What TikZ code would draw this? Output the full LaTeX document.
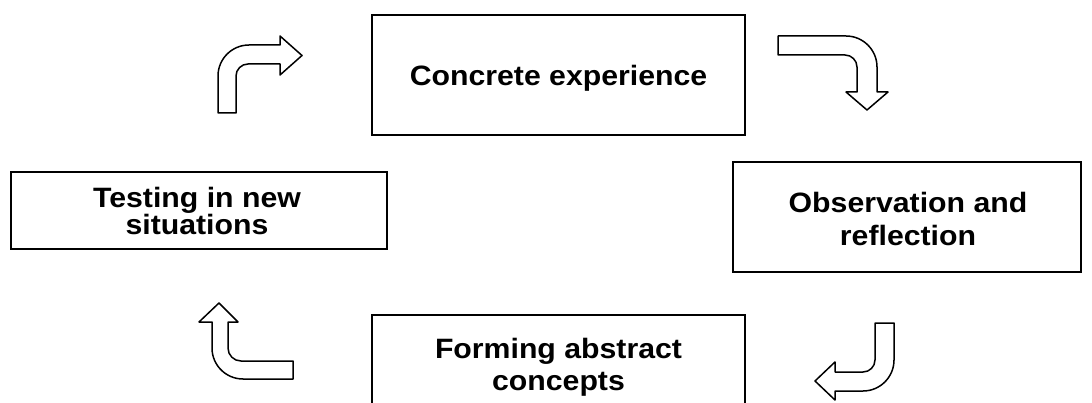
\documentclass[tikz,border=0pt]{standalone}
\usepackage{fontspec}
\setmainfont{Liberation Sans}[FakeStretch=1.08]
\begin{document}
\begin{tikzpicture}[x=1pt,y=-1pt,
  stage/.style={draw=black,line width=2.2pt,fill=white,inner sep=0pt},
  lbl/.style={font=\fontsize{28}{32}\selectfont\bfseries,align=center,inner sep=0pt},
  bent/.style={draw=black,line width=1.5pt,fill=white,line join=round}]
\clip (0,0) rectangle (1092,403);
\fill[white] (0,0) rectangle (1092,403);

% stage boxes
\node[stage,minimum width=373pt,minimum height=120pt] (ce) at (558.5,75) {};
\node[stage,minimum width=376pt,minimum height=77pt] (tn) at (199,210.5) {};
\node[stage,minimum width=348pt,minimum height=110pt] (or) at (907,217) {};
\node[stage,minimum width=373pt,minimum height=100pt] (fa) at (558.5,365) {};

% stage labels
\node[lbl] (ceT) at (558.5,78) {Concrete experience};
\node[lbl,font=\fontsize{28}{27}\selectfont\bfseries] (tnT) at (197,211) {Testing in new\\situations};
\node[lbl,font=\fontsize{28}{33}\selectfont\bfseries] (orT) at (908,219) {Observation and\\reflection};
\node[lbl] (faT) at (558.5,367) {Forming abstract\\concepts};

% bent block arrows between the stages
\draw[bent] (218,113) -- (218,76) .. controls (218,58.9) and (231.9,45) .. (249,45)
  -- (280,45) -- (280,36) -- (302,55.5) -- (280,75) -- (280,64) -- (248,64)
  .. controls (241.4,64) and (236,69.4) .. (236,76) -- (236,113) -- cycle;

\draw[bent] (778,36) -- (846,36) .. controls (863.1,36) and (877,49.9) .. (877,67)
  -- (877,92) -- (888,92) -- (867,110) -- (846,92) -- (857,92) -- (857,67)
  .. controls (857,60.4) and (851.6,55) .. (845,55) -- (778,55) -- cycle;

\draw[bent] (875,323) -- (894,323) -- (894,360) .. controls (894,377.1) and (880.1,391) .. (863,391)
  -- (835,391) -- (835,400) -- (815,381) -- (835,362) -- (835,372) -- (863,372)
  .. controls (869.6,372) and (875,366.6) .. (875,360) -- cycle;

\draw[bent] (219,303) -- (238,322) -- (228,322) -- (228,348)
  .. controls (228,355.2) and (233.8,361) .. (241,361) -- (293,361) -- (293,379)
  -- (243,379) .. controls (225.9,379) and (212,365.1) .. (212,348) -- (212,322)
  -- (199,322) -- cycle;
\end{tikzpicture}
\end{document}
